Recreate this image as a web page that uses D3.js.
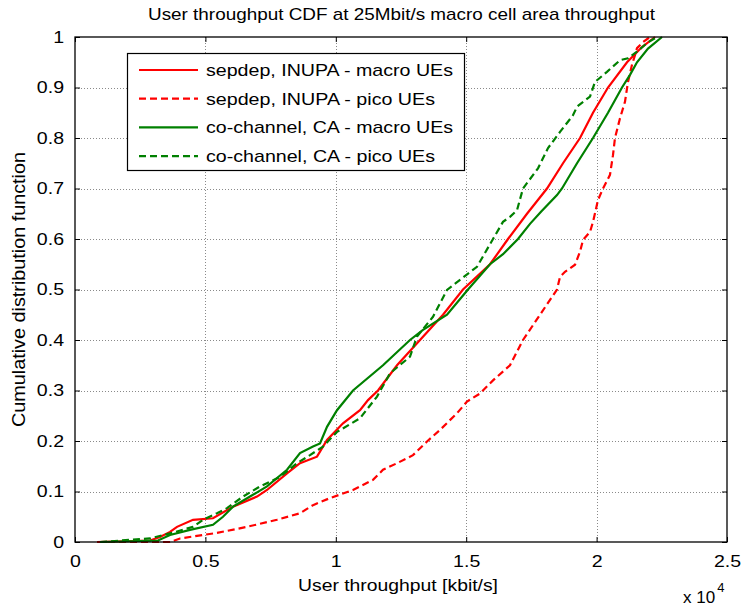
<!DOCTYPE html>
<html><head><meta charset="utf-8">
<script src="https://cdn.jsdelivr.net/npm/d3@7"></script>
<style>body{margin:0;background:#fff}svg{display:block}text{font-family:"Liberation Sans",Arial,sans-serif;fill:#000}</style>
</head><body><svg id="c" width="742" height="607"></svg>
<script>
const title = "User throughput CDF at 25Mbit/s macro cell area throughput";
const xLabel = "User throughput [kbit/s]";
const yLabel = "Cumulative distribution function";
const xTicks = [0, 5000, 10000, 15000, 20000, 25000];
const xTickLabels = ["0", "0.5", "1", "1.5", "2", "2.5"];
const yTicks = [0, 0.1, 0.2, 0.3, 0.4, 0.5, 0.6, 0.7, 0.8, 0.9, 1];
const seriesNames = ["sepdep, INUPA - macro UEs", "sepdep, INUPA - pico UEs", "co-channel, CA - macro UEs", "co-channel, CA - pico UEs"];

const sepdepMacro = [[844,0],[2876,0.003],[3259,0.01],[3643,0.02],[3911,0.03],[4525,0.044],[5291,0.047],[6058,0.07],[6979,0.09],[7362,0.103],[8129,0.136],[8627,0.156],[9279,0.169],[9663,0.202],[10276,0.235],[10928,0.261],[11235,0.281],[11618,0.3],[12347,0.35],[13229,0.4],[14111,0.45],[14877,0.5],[15913,0.55],[16603,0.6],[17331,0.65],[18098,0.7],[18712,0.75],[19364,0.8],[19862,0.85],[20437,0.9],[21166,0.95],[21741,0.98],[22240,1]];
const sepdepPico = [[844,0],[3643,0],[4026,0.007],[4908,0.014],[5445,0.018],[6595,0.03],[7745,0.044],[8627,0.057],[9126,0.073],[9778,0.087],[10660,0.103],[11427,0.123],[11810,0.143],[12347,0.156],[12960,0.172],[13497,0.199],[13996,0.222],[14647,0.255],[15031,0.278],[15529,0.294],[16028,0.32],[16680,0.35],[17178,0.4],[17830,0.45],[18482,0.5],[18597,0.525],[18788,0.535],[19172,0.549],[19364,0.575],[19479,0.598],[19747,0.614],[19862,0.634],[19938,0.651],[20053,0.677],[20245,0.7],[20513,0.727],[20628,0.766],[20705,0.8],[20897,0.839],[21089,0.872],[21204,0.911],[21357,0.945],[21472,0.964],[21549,0.978],[21779,0.99],[22048,1]];
const cochMacro = [[960,0],[3183,0.003],[3643,0.014],[4410,0.024],[5291,0.034],[5674,0.05],[6058,0.07],[6710,0.09],[7362,0.11],[8129,0.143],[8627,0.176],[9126,0.189],[9394,0.195],[9663,0.228],[10046,0.261],[10660,0.3],[11810,0.35],[12845,0.4],[13344,0.42],[14264,0.45],[15069,0.5],[15913,0.55],[16411,0.57],[16986,0.6],[17446,0.63],[17868,0.654],[18482,0.687],[18673,0.7],[19249,0.75],[19862,0.8],[20437,0.85],[20974,0.9],[21281,0.925],[21549,0.95],[21971,0.977],[22508,1]];
const cochPico = [[960,0],[2876,0.007],[3643,0.017],[4525,0.03],[4908,0.044],[5445,0.057],[5828,0.067],[6442,0.09],[7094,0.11],[7861,0.129],[8512,0.156],[9011,0.172],[9509,0.189],[10046,0.218],[10928,0.245],[11580,0.288],[12079,0.334],[12845,0.367],[13113,0.407],[13727,0.446],[14264,0.499],[14762,0.519],[15414,0.545],[16028,0.6],[16411,0.634],[16680,0.644],[16948,0.657],[17178,0.7],[17753,0.74],[18137,0.78],[18597,0.812],[19095,0.845],[19249,0.862],[19747,0.882],[19938,0.911],[20398,0.931],[20897,0.954],[21204,0.958],[21549,0.971],[21932,0.988],[22316,1]];

const allSeries = [sepdepMacro, sepdepPico, cochMacro, cochPico];
const colors = ["#ff0000", "#ff0000", "#008000", "#008000"];
const dashes = [null, "7,4", null, "7,4"];

const FS = "17px";
const STRETCH = 1.15;
function stretch(sel, w) {
  sel.each(function () {
    const n = this.getComputedTextLength();
    d3.select(this).attr("textLength", w != null ? w : n * STRETCH).attr("lengthAdjust", "spacingAndGlyphs");
  });
}

const svg = d3.select("#c");
const L = 75, R = 727, T = 37, B = 542;
const x = d3.scaleLinear().domain([0, 25000]).range([L, R]);
const y = d3.scaleLinear().domain([0, 1]).range([B, T]);

// grid
const g = svg.append("g");
g.selectAll("line.gx").data(xTicks.slice(1, -1)).enter().append("line")
  .attr("x1", d => Math.round(x(d)) + 0.5).attr("x2", d => Math.round(x(d)) + 0.5).attr("y1", T).attr("y2", B)
  .attr("stroke", "#8a8a8a").attr("stroke-dasharray", "1,2").attr("stroke-width", 1);
g.selectAll("line.gy").data(yTicks.slice(1, -1)).enter().append("line")
  .attr("y1", d => Math.round(y(d)) + 0.5).attr("y2", d => Math.round(y(d)) + 0.5).attr("x1", L).attr("x2", R)
  .attr("stroke", "#8a8a8a").attr("stroke-dasharray", "1,2").attr("stroke-width", 1);

// axes (ticks inside, all four sides)
const fmt = (d) => xTickLabels[xTicks.indexOf(d)];
const ax = (gen, tr, anchor) => svg.append("g").attr("transform", tr).call(gen)
  .call(s => {
    s.select(".domain").remove();
    s.selectAll("line").attr("stroke", "#000");
    const t = s.selectAll("text").style("font-size", FS).style("font-family", '"Liberation Sans",Arial,sans-serif').attr("fill", "#000");
    t.each(function () {
      const el = d3.select(this);
      if (!el.text()) return;
      stretch(el);
    });
  });
ax(d3.axisBottom(x).tickValues(xTicks).tickFormat(fmt).tickSizeInner(-5).tickSizeOuter(0).tickPadding(13), `translate(0,${B})`);
ax(d3.axisTop(x).tickValues(xTicks).tickFormat("").tickSizeInner(-5).tickSizeOuter(0), `translate(0,${T})`);
ax(d3.axisLeft(y).tickValues(yTicks).tickFormat(d3.format("")).tickSizeInner(-5).tickSizeOuter(0).tickPadding(11), `translate(${L},0)`);
ax(d3.axisRight(y).tickValues(yTicks).tickFormat("").tickSizeInner(-5).tickSizeOuter(0), `translate(${R},0)`);

// lines
const line = d3.line().x(d => x(d[0])).y(d => y(d[1]));
allSeries.forEach((s, i) => {
  svg.append("path").datum(s).attr("d", line).attr("fill", "none")
    .attr("stroke", colors[i]).attr("stroke-width", 2.2)
    .attr("stroke-dasharray", dashes[i]);
});

// box
svg.append("rect").attr("x", L).attr("y", T).attr("width", R - L).attr("height", B - T)
  .attr("fill", "none").attr("stroke", "#000").attr("stroke-width", 1.3);

// texts
svg.append("text").attr("x", 148).attr("y", 20).style("font-size", FS).text(title).call(stretch, 507);
svg.append("text").attr("x", 298).attr("y", 591).style("font-size", FS).text(xLabel).call(stretch, 200);
svg.append("text").attr("transform", `translate(25,${(T + B) / 2}) scale(1.12,1) rotate(-90)`).attr("text-anchor", "middle").style("font-size", FS).text(yLabel).call(stretch, 275);
const ex = svg.append("text").attr("x", 683).attr("y", 603).style("font-size", FS);
ex.append("tspan").text("x 10");
ex.append("tspan").attr("dy", -11).attr("dx", 2).style("font-size", "13px").text("4");

// legend
const lg = svg.append("g");
lg.append("rect").attr("x", 127.5).attr("y", 53.5).attr("width", 337).attr("height", 117)
  .attr("fill", "#fff").attr("stroke", "#000").attr("stroke-width", 1.2);
const legendW = [247, 229, 247, 229];
seriesNames.forEach((n, i) => {
  const yy = 70 + i * 28.7;
  lg.append("line").attr("x1", 139).attr("x2", 198).attr("y1", yy).attr("y2", yy)
    .attr("stroke", colors[i]).attr("stroke-width", 2.2).attr("stroke-dasharray", dashes[i]);
  lg.append("text").attr("x", 206).attr("y", yy + 6).style("font-size", FS).text(n).call(stretch, legendW[i]);
});
</script></body></html>
